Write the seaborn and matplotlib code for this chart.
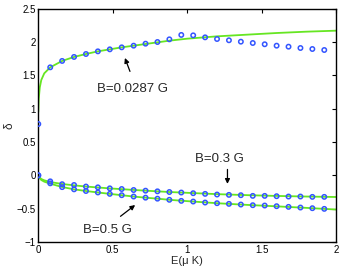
import numpy as np
import pandas as pd
import matplotlib
matplotlib.use("Agg")
import matplotlib.pyplot as plt
import seaborn as sns

# ---- data ----
pts_x = [0.00, 0.08, 0.16, 0.24, 0.32, 0.40, 0.48, 0.56, 0.64, 0.72, 0.80, 0.88,
         0.96, 1.04, 1.12, 1.20, 1.28, 1.36, 1.44, 1.52, 1.60, 1.68, 1.76, 1.84, 1.92]
pts_b0287 = [0.77, 1.62, 1.716, 1.776, 1.82, 1.86, 1.89, 1.92, 1.945, 1.975, 2.00, 2.04,
             2.106, 2.10, 2.07, 2.045, 2.026, 2.005, 1.985, 1.966, 1.945, 1.93, 1.91, 1.895, 1.88]
pts_b03 = [0.0, -0.09, -0.133, -0.145, -0.168, -0.18, -0.195, -0.205, -0.22, -0.23, -0.24, -0.25,
           -0.258, -0.268, -0.278, -0.288, -0.293, -0.298, -0.308, -0.308, -0.313, -0.318, -0.318, -0.323, -0.323]
pts_b05 = [0.0, -0.12, -0.177, -0.21, -0.235, -0.257, -0.278, -0.298, -0.318, -0.335, -0.35, -0.367,
           -0.383, -0.393, -0.408, -0.418, -0.428, -0.438, -0.448, -0.453, -0.463, -0.473, -0.483, -0.493, -0.503]

line_x = [0.0, 0.003, 0.01, 0.02, 0.04, 0.08, 0.16, 0.24, 0.32, 0.40, 0.48, 0.56, 0.64,
          0.72, 0.80, 0.88, 1.0, 1.2, 1.4, 1.6, 1.8, 2.0]
line_b0287 = [0.95, 1.15, 1.32, 1.43, 1.53, 1.62, 1.716, 1.776, 1.82, 1.86, 1.89, 1.92, 1.945,
              1.97, 1.995, 2.02, 2.05, 2.085, 2.11, 2.135, 2.155, 2.17]
line_b03 = [0.0, -0.015, -0.035, -0.055, -0.075, -0.10, -0.13, -0.15, -0.168, -0.182, -0.196, -0.207, -0.219,
            -0.23, -0.24, -0.25, -0.262, -0.282, -0.297, -0.309, -0.318, -0.325]
line_b05 = [0.0, -0.02, -0.045, -0.07, -0.095, -0.125, -0.175, -0.21, -0.235, -0.257, -0.278, -0.298, -0.318,
            -0.335, -0.35, -0.367, -0.387, -0.418, -0.443, -0.465, -0.488, -0.513]

xticks = [0, 0.5, 1, 1.5, 2]
yticks = [-1, -0.5, 0, 0.5, 1, 1.5, 2, 2.5]

sns.set_style("white")
plt.rcParams['font.family'] = ['Liberation Sans', 'DejaVu Sans']

fig = plt.figure(figsize=(3.42, 2.71), dpi=100)
ax = fig.add_axes([0.112, 0.107, 0.871, 0.861])

green = '#66e622'
blue = '#3355ff'

lines = pd.DataFrame({'x': line_x * 3,
                      'y': line_b0287 + line_b03 + line_b05,
                      's': ['a'] * len(line_x) + ['b'] * len(line_x) + ['c'] * len(line_x)})
pts = pd.DataFrame({'x': pts_x * 3,
                    'y': pts_b0287 + pts_b03 + pts_b05,
                    's': ['a'] * len(pts_x) + ['b'] * len(pts_x) + ['c'] * len(pts_x)})

sns.lineplot(data=lines, x='x', y='y', units='s', estimator=None, color=green,
             linewidth=1.3, ax=ax, sort=False, zorder=2)
sns.scatterplot(data=pts, x='x', y='y', marker='o', s=10, facecolors='none',
                edgecolor=blue, linewidth=1.1, ax=ax, zorder=3)

ax.set_xlim(0, 2)
ax.set_ylim(-1, 2.5)
ax.set_xticks(xticks)
ax.set_xticklabels(['0', '0.5', '1', '1.5', '2'])
ax.set_yticks(yticks)
ax.set_yticklabels(['\u22121', '\u22120.5', '0', '0.5', '1', '1.5', '2', '2.5'])
ax.tick_params(direction='in', top=True, right=True, length=3, width=0.8,
               labelsize=7, pad=2, colors='black')
for sp in ax.spines.values():
    sp.set_visible(True)
    sp.set_color('black')
    sp.set_linewidth(1.0)

ax.set_xlabel('E(\u03bc K)', fontsize=8, labelpad=1)
ax.set_ylabel('\u03b4', fontsize=8.5, labelpad=1)

arrow = dict(arrowstyle='-|>', color='black', lw=0.9, mutation_scale=7)
ax.annotate('', xy=(0.575, 1.80), xytext=(0.622, 1.52), arrowprops=arrow)
ax.text(0.632, 1.29, 'B=0.0287 G', fontsize=9.5, ha='center', va='center')
ax.annotate('', xy=(1.27, -0.17), xytext=(1.27, 0.13), arrowprops=arrow)
ax.text(1.215, 0.25, 'B=0.3 G', fontsize=9.5, ha='center', va='center')
ax.annotate('', xy=(0.665, -0.42), xytext=(0.537, -0.64), arrowprops=arrow)
ax.text(0.463, -0.82, 'B=0.5 G', fontsize=9.5, ha='center', va='center')

fig.savefig('out.png', dpi=100)
